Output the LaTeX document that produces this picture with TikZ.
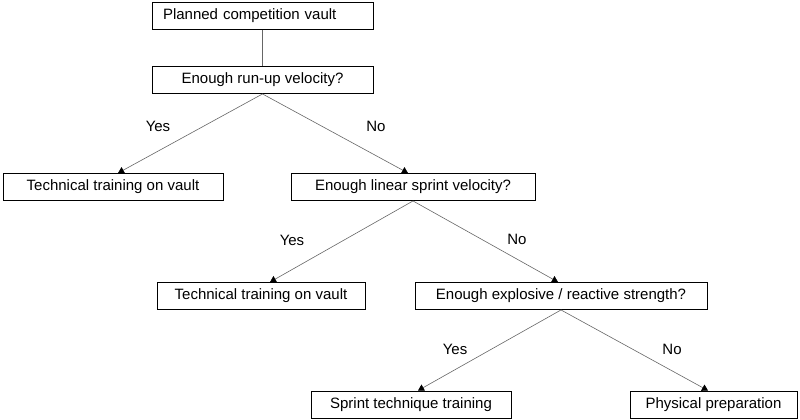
\documentclass[tikz,border=0pt]{standalone}
\usepackage{fontspec}
\setmainfont{Liberation Sans}
\usetikzlibrary{arrows.meta}

\begin{document}
\begin{tikzpicture}[x=1pt,y=-1pt,
  box/.style={draw,line width=0.9pt,minimum height=27pt,inner sep=0pt,font=\fontsize{15}{18}\selectfont},
  link/.style={draw=black!60,line width=0.6pt},
  arrow/.style={link,-{Triangle[width=7pt,length=6pt,color=black]}},
  lab/.style={font=\fontsize{15}{18}\selectfont}]

\useasboundingbox (0,0) rectangle (800,420);

% Draw the boxes
\node[box,minimum width=221pt,text width=199pt,align=left] (plan) at (262.5,16) {Planned competition vault};
\node[box,minimum width=221pt] (runup) at (262.5,80) {Enough run-up velocity?};
\node[box,minimum width=220pt] (tech1) at (113,187) {Technical training on vault};
\node[box,minimum width=244pt] (sprint) at (413,187) {Enough linear sprint velocity?};
\node[box,minimum width=208pt] (tech2) at (261,296) {Technical training on vault};
\node[box,minimum width=292pt] (strength) at (561,296) {Enough explosive / reactive strength?};
\node[box,minimum width=200pt] (sprtech) at (411,404.5) {Sprint technique training};
\node[box,minimum width=167pt] (physprep) at (713.5,404.5) {Physical preparation};

% Draw the connectors
\draw[link] (plan) -- (runup);
\draw[arrow] (runup.south) -- ([xshift=5pt]tech1.north);
\draw[arrow] (runup.south) -- ([xshift=-5pt]sprint.north);
\draw[arrow] (sprint.south) -- ([xshift=9pt]tech2.north);
\draw[arrow] (sprint.south) -- ([xshift=-3pt]strength.north);
\draw[arrow] (strength.south) -- ([xshift=7pt]sprtech.north);
\draw[arrow] (strength.south) -- ([xshift=-5.5pt]physprep.north);

% Labels for the branches
\node[lab] (yes1) at (158,126) {Yes};
\node[lab] (no1) at (376,126) {No};
\node[lab] (yes2) at (292,240) {Yes};
\node[lab] (no2) at (517,239) {No};
\node[lab] (yes3) at (455,349) {Yes};
\node[lab] (no3) at (672,349) {No};

\end{tikzpicture}
\end{document}
